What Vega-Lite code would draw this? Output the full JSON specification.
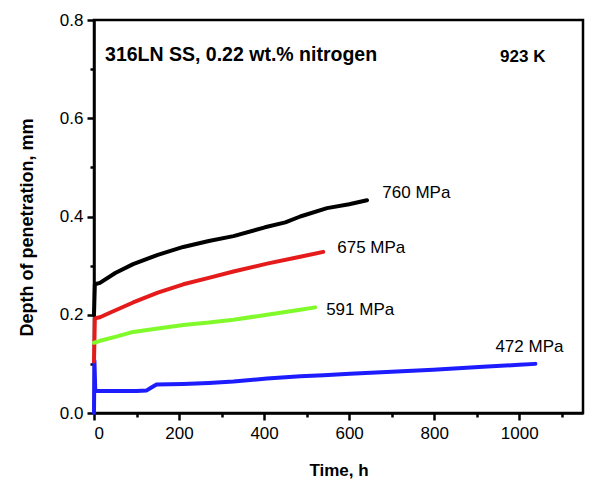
{
  "$schema": "https://vega.github.io/schema/vega-lite/v6.json",
  "width": 489,
  "height": 393,
  "autosize": {"type": "none"},
  "padding": {"left": 94, "top": 20, "right": 14, "bottom": 69},
  "background": "white",
  "config": {
    "font": "Liberation Sans",
    "view": {"stroke": "black", "strokeWidth": 2.5},
    "axis": {
      "grid": false,
      "domainColor": "black",
      "domainWidth": 2.5,
      "tickColor": "black",
      "tickWidth": 2.5,
      "labelColor": "black",
      "labelFontSize": 17,
      "labelFont": "Liberation Sans",
      "titleFont": "Liberation Sans",
      "titleFontWeight": "bold",
      "titleColor": "black"
    }
  },
  "datasets": {
    "curves": [
      {"s": "472 MPa", "i": 0, "t": 0, "d": 0},
      {"s": "472 MPa", "i": 1, "t": 1, "d": 0.107},
      {"s": "472 MPa", "i": 2, "t": 3, "d": 0.045},
      {"s": "472 MPa", "i": 3, "t": 50, "d": 0.045},
      {"s": "472 MPa", "i": 4, "t": 100, "d": 0.045},
      {"s": "472 MPa", "i": 5, "t": 124, "d": 0.046},
      {"s": "472 MPa", "i": 6, "t": 135, "d": 0.052},
      {"s": "472 MPa", "i": 7, "t": 147, "d": 0.058},
      {"s": "472 MPa", "i": 8, "t": 210, "d": 0.059},
      {"s": "472 MPa", "i": 9, "t": 270, "d": 0.061},
      {"s": "472 MPa", "i": 10, "t": 328, "d": 0.064},
      {"s": "472 MPa", "i": 11, "t": 407, "d": 0.07},
      {"s": "472 MPa", "i": 12, "t": 485, "d": 0.075},
      {"s": "472 MPa", "i": 13, "t": 540, "d": 0.077},
      {"s": "472 MPa", "i": 14, "t": 602, "d": 0.08},
      {"s": "472 MPa", "i": 15, "t": 700, "d": 0.084},
      {"s": "472 MPa", "i": 16, "t": 798, "d": 0.088},
      {"s": "472 MPa", "i": 17, "t": 915, "d": 0.094},
      {"s": "472 MPa", "i": 18, "t": 1000, "d": 0.098},
      {"s": "472 MPa", "i": 19, "t": 1038, "d": 0.1},
      {"s": "675 MPa", "i": 0, "t": 0, "d": 0.105},
      {"s": "675 MPa", "i": 1, "t": 2, "d": 0.193},
      {"s": "675 MPa", "i": 2, "t": 14, "d": 0.195},
      {"s": "675 MPa", "i": 3, "t": 40, "d": 0.205},
      {"s": "675 MPa", "i": 4, "t": 92, "d": 0.225},
      {"s": "675 MPa", "i": 5, "t": 150, "d": 0.245},
      {"s": "675 MPa", "i": 6, "t": 210, "d": 0.262},
      {"s": "675 MPa", "i": 7, "t": 270, "d": 0.275},
      {"s": "675 MPa", "i": 8, "t": 328, "d": 0.288},
      {"s": "675 MPa", "i": 9, "t": 407, "d": 0.304},
      {"s": "675 MPa", "i": 10, "t": 485, "d": 0.318},
      {"s": "675 MPa", "i": 11, "t": 539, "d": 0.328},
      {"s": "591 MPa", "i": 0, "t": 0, "d": 0.143},
      {"s": "591 MPa", "i": 1, "t": 14, "d": 0.147},
      {"s": "591 MPa", "i": 2, "t": 50, "d": 0.155},
      {"s": "591 MPa", "i": 3, "t": 92, "d": 0.165},
      {"s": "591 MPa", "i": 4, "t": 150, "d": 0.172},
      {"s": "591 MPa", "i": 5, "t": 210, "d": 0.179},
      {"s": "591 MPa", "i": 6, "t": 270, "d": 0.184},
      {"s": "591 MPa", "i": 7, "t": 328, "d": 0.19},
      {"s": "591 MPa", "i": 8, "t": 407, "d": 0.2},
      {"s": "591 MPa", "i": 9, "t": 485, "d": 0.21},
      {"s": "591 MPa", "i": 10, "t": 520, "d": 0.215},
      {"s": "760 MPa", "i": 0, "t": 0, "d": 0.2},
      {"s": "760 MPa", "i": 1, "t": 2, "d": 0.262},
      {"s": "760 MPa", "i": 2, "t": 14, "d": 0.265},
      {"s": "760 MPa", "i": 3, "t": 50, "d": 0.285},
      {"s": "760 MPa", "i": 4, "t": 92, "d": 0.303},
      {"s": "760 MPa", "i": 5, "t": 150, "d": 0.322},
      {"s": "760 MPa", "i": 6, "t": 210, "d": 0.338},
      {"s": "760 MPa", "i": 7, "t": 270, "d": 0.35},
      {"s": "760 MPa", "i": 8, "t": 328, "d": 0.36},
      {"s": "760 MPa", "i": 9, "t": 402, "d": 0.378},
      {"s": "760 MPa", "i": 10, "t": 450, "d": 0.388},
      {"s": "760 MPa", "i": 11, "t": 485, "d": 0.4},
      {"s": "760 MPa", "i": 12, "t": 548, "d": 0.417},
      {"s": "760 MPa", "i": 13, "t": 600, "d": 0.425},
      {"s": "760 MPa", "i": 14, "t": 642, "d": 0.433}
    ],
    "labels": [
      {"label": "760 MPa", "t": 678, "d": 0.448},
      {"label": "675 MPa", "t": 572, "d": 0.336},
      {"label": "591 MPa", "t": 546, "d": 0.21},
      {"label": "472 MPa", "t": 944, "d": 0.134}
    ],
    "notes": [
      {"note": "316LN SS, 0.22 wt.% nitrogen", "t": 26, "d": 0.729},
      {"note": "923 K", "t": 955, "d": 0.725}
    ]
  },
  "layer": [
    {
      "data": {"name": "curves"},
      "mark": {"type": "line", "strokeWidth": 4, "strokeCap": "round", "strokeJoin": "round"},
      "encoding": {
        "x": {
          "field": "t", "type": "quantitative",
          "scale": {"domain": [0, 1150], "nice": false, "zero": false},
          "axis": {
            "title": "Time, h",
            "titleFontSize": 17,
            "values": [0, 100, 200, 300, 400, 500, 600, 700, 800, 900, 1000, 1100],
            "labelExpr": "datum.value % 200 == 0 ? format(datum.value, 'd') : ''",
            "tickSize": {"condition": {"test": "datum.value % 200 == 0", "value": 7}, "value": 4},
            "labelPadding": 5,
            "titlePadding": 21
          }
        },
        "y": {
          "field": "d", "type": "quantitative",
          "scale": {"domain": [0, 0.8], "nice": false},
          "axis": {
            "title": "Depth of penetration, mm",
            "titleFontSize": 18,
            "titleY": 207,
            "values": [0, 0.1, 0.2, 0.3, 0.4, 0.5, 0.6, 0.7, 0.8],
            "labelExpr": "round(datum.value * 10) % 2 == 0 ? format(datum.value, '.1f') : ''",
            "tickSize": {"condition": {"test": "round(datum.value * 10) % 2 == 0", "value": 7}, "value": 4},
            "labelPadding": 4,
            "titlePadding": 23
          }
        },
        "color": {
          "field": "s", "type": "nominal",
          "scale": {"domain": ["472 MPa", "675 MPa", "591 MPa", "760 MPa"], "range": ["#1c1cff", "#e51b1b", "#80fa2a", "#000000"]},
          "legend": null
        },
        "order": {"field": "i", "type": "quantitative"}
      }
    },
    {
      "data": {"name": "labels"},
      "mark": {"type": "text", "align": "left", "baseline": "middle", "fontSize": 17, "color": "black", "font": "Liberation Sans"},
      "encoding": {
        "x": {"field": "t", "type": "quantitative"},
        "y": {"field": "d", "type": "quantitative"},
        "text": {"field": "label"}
      }
    },
    {
      "data": {"name": "notes"},
      "transform": [{"filter": "datum.note != '923 K'"}],
      "mark": {"type": "text", "align": "left", "baseline": "middle", "fontSize": 19.5, "fontWeight": "bold", "color": "black", "font": "Liberation Sans"},
      "encoding": {
        "x": {"field": "t", "type": "quantitative"},
        "y": {"field": "d", "type": "quantitative"},
        "text": {"field": "note"}
      }
    },
    {
      "data": {"name": "notes"},
      "transform": [{"filter": "datum.note == '923 K'"}],
      "mark": {"type": "text", "align": "left", "baseline": "middle", "fontSize": 17, "fontWeight": "bold", "color": "black", "font": "Liberation Sans"},
      "encoding": {
        "x": {"field": "t", "type": "quantitative"},
        "y": {"field": "d", "type": "quantitative"},
        "text": {"field": "note"}
      }
    }
  ]
}
